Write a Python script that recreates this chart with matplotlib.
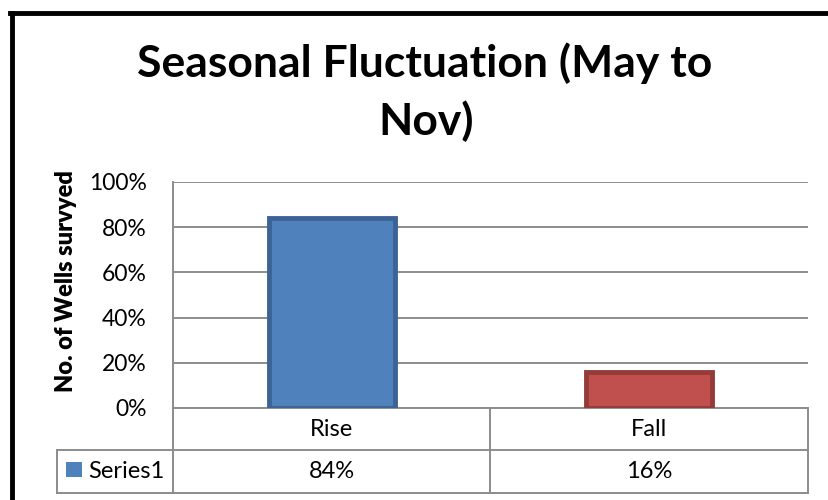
import matplotlib
matplotlib.use("Agg")
import matplotlib.pyplot as plt
from matplotlib.patches import Rectangle
from matplotlib.lines import Line2D

categories = ["Rise", "Fall"]
values = [0.84, 0.16]
value_labels = ["84%", "16%"]
series_name = "Series1"
yticks = [0, 0.2, 0.4, 0.6, 0.8, 1.0]
ytick_labels = ["0%", "20%", "40%", "60%", "80%", "100%"]

face_colors = ["#4F81BD", "#C0504D"]
edge_colors = ["#3C6396", "#943B39"]
grid_col = "#8C8C8C"

plt.rcParams["font.family"] = ["Lato", "DejaVu Sans"]
fs = 17

fig = plt.figure(figsize=(8.29, 5), dpi=100)
ax = fig.add_axes([173 / 829, 92 / 500, 635 / 829, 226 / 500])

x = list(range(len(categories)))
ax.bar(x, values, width=0.397, color=face_colors, edgecolor=edge_colors,
       linewidth=3.5, zorder=3)
ax.set_xlim(-0.5, len(categories) - 0.5)
ax.set_ylim(0, 1.0)
ax.set_yticks(yticks)
ax.set_yticklabels(ytick_labels, fontsize=16.5)
ax.set_xticks([])
ax.tick_params(axis="y", length=0, pad=19)
ax.yaxis.grid(True, color=grid_col, linewidth=1.4, zorder=0)
for s in ["top", "right", "bottom"]:
    ax.spines[s].set_visible(False)
ax.spines["left"].set_color(grid_col)
ax.spines["left"].set_linewidth(1.4)

# data table under the plot
leg_x = -0.1827
r1 = -0.186
r2 = -0.376
kw = dict(transform=ax.transAxes, color=grid_col, linewidth=1.4, clip_on=False)
ax.add_line(Line2D([0, 0], [0, r2], **kw))
ax.add_line(Line2D([1, 1], [0, r2], **kw))
ax.add_line(Line2D([0.5, 0.5], [0, r2], **kw))
ax.add_line(Line2D([leg_x, 1], [r1, r1], **kw))
ax.add_line(Line2D([leg_x, 1], [r2, r2], **kw))
ax.add_line(Line2D([leg_x, leg_x], [r1, r2], **kw))
ax.add_line(Line2D([0, 1], [0, 0], **kw))

for i, cat in enumerate(categories):
    cx = (i + 0.5) / len(categories)
    ax.text(cx, r1 / 2, cat, transform=ax.transAxes, ha="center", va="center",
            fontsize=fs)
    ax.text(cx, (r1 + r2) / 2, value_labels[i], transform=ax.transAxes,
            ha="center", va="center", fontsize=fs)

ax.add_patch(Rectangle((-0.1685, -0.305), 0.0252, 0.066, transform=ax.transAxes,
                       facecolor=face_colors[0], edgecolor="none", clip_on=False))
ax.text(-0.134, (r1 + r2) / 2, series_name, transform=ax.transAxes,
        ha="left", va="center", fontsize=fs)

fig.text(0.0796, 0.438, "No. of Wells survyed", rotation=90, ha="center",
         va="center", fontsize=fs, fontweight="heavy")

fig.text(0.512, 0.846, "Seasonal Fluctuation (May to", ha="center",
         va="baseline", fontsize=32, fontweight="bold")
fig.text(0.514, 0.73, "Nov)", ha="center", va="baseline",
         fontsize=32, fontweight="bold")

# outer frame (top and left edges visible)
fig.add_artist(Line2D([12.5 / 829, 12.5 / 829], [0, 1 - 12.5 / 500], color="black",
                      linewidth=3.5, transform=fig.transFigure))
fig.add_artist(Line2D([10 / 829, 1], [1 - 12.5 / 500, 1 - 12.5 / 500], color="black",
                      linewidth=3.5, transform=fig.transFigure))

fig.savefig("out.png", dpi=100)
